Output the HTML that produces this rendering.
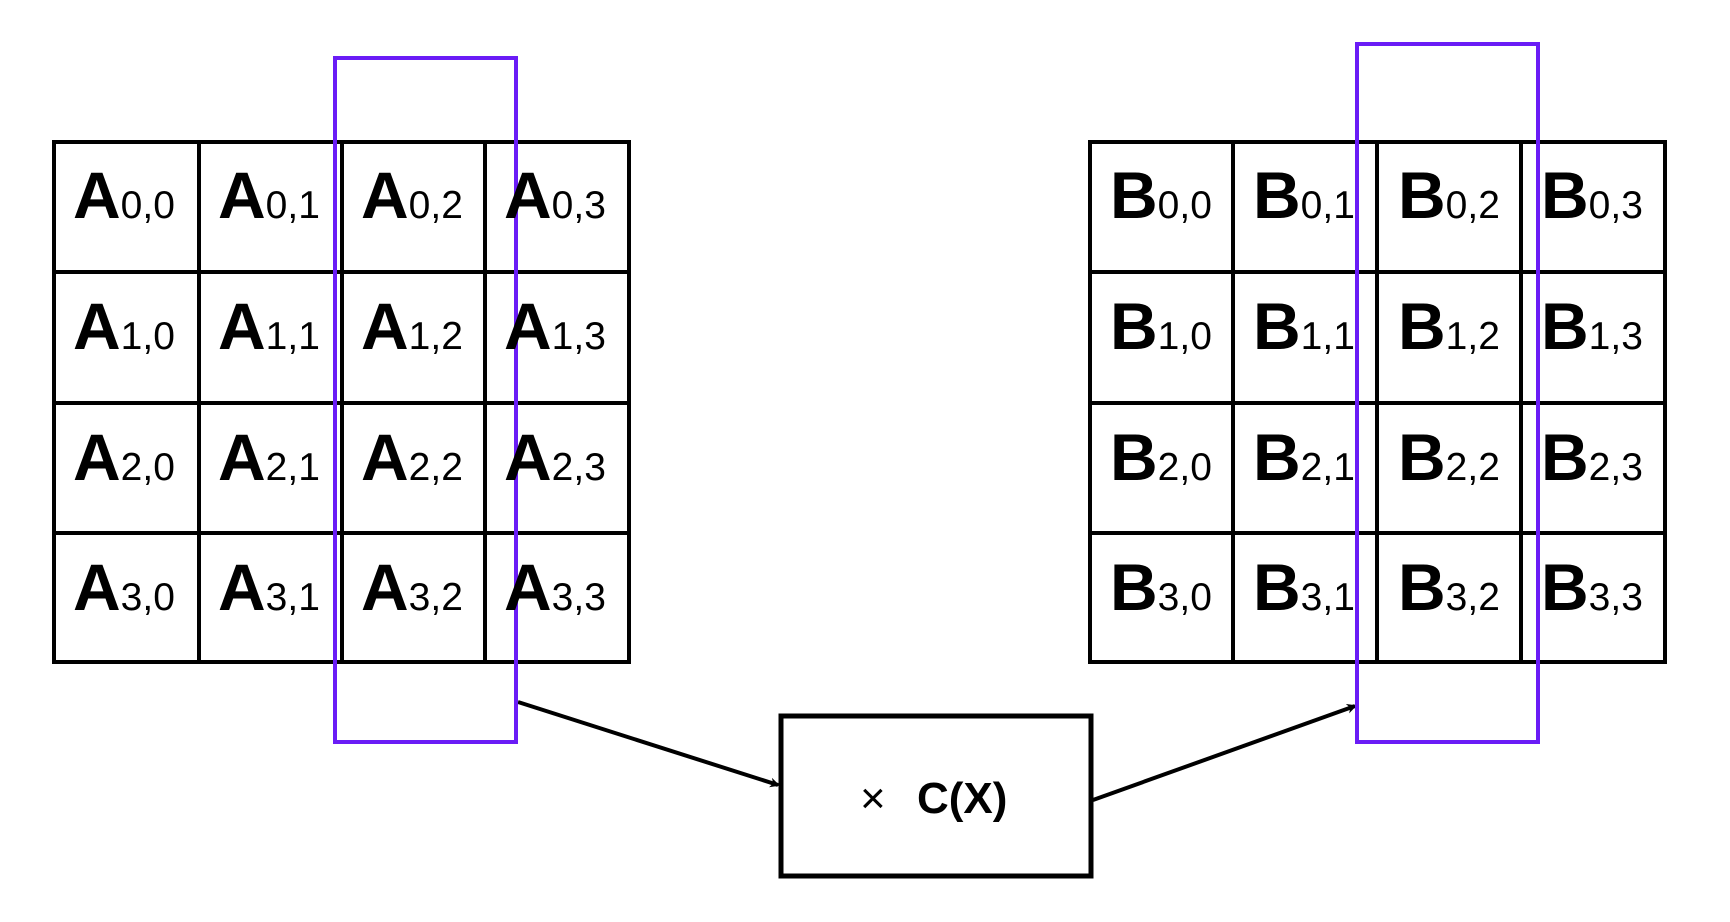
<!DOCTYPE html>
<html><head><meta charset="utf-8"><style>
html,body{margin:0;padding:0;background:#fff;}
svg{display:block;}
text{font-family:"Liberation Sans",Arial,sans-serif;fill:#000;}
</style></head><body>
<svg width="1730" height="922" viewBox="0 0 1730 922" xmlns="http://www.w3.org/2000/svg">
<defs>
<marker id="ah" markerWidth="10" markerHeight="10" refX="8" refY="5" orient="auto" markerUnits="userSpaceOnUse" viewBox="0 0 10 10">
<path d="M0,0 L10,5 L0,10 L3,5 z" fill="#000"/>
</marker>
</defs>
<g stroke="#000" stroke-width="4" fill="none">
<rect x="54" y="142" width="575" height="520"/>
<line x1="199" y1="142" x2="199" y2="662"/>
<line x1="342" y1="142" x2="342" y2="662"/>
<line x1="485" y1="142" x2="485" y2="662"/>
<line x1="54" y1="272" x2="629" y2="272"/>
<line x1="54" y1="403" x2="629" y2="403"/>
<line x1="54" y1="533" x2="629" y2="533"/>
<rect x="1090" y="142" width="575" height="520"/>
<line x1="1233" y1="142" x2="1233" y2="662"/>
<line x1="1377" y1="142" x2="1377" y2="662"/>
<line x1="1521" y1="142" x2="1521" y2="662"/>
<line x1="1090" y1="272" x2="1665" y2="272"/>
<line x1="1090" y1="403" x2="1665" y2="403"/>
<line x1="1090" y1="533" x2="1665" y2="533"/>
<rect x="781" y="716" width="310" height="160" stroke-width="5"/>
<line x1="518" y1="702" x2="778" y2="785" stroke-width="4" marker-end="url(#ah)"/>
<line x1="1093" y1="800" x2="1355" y2="706" stroke-width="4" marker-end="url(#ah)"/>
</g>
<g stroke="#6a1cf6" stroke-width="4" fill="none">
<rect x="335" y="58" width="181" height="684"/>
<rect x="1357" y="44" width="181" height="698"/>
</g>
<g font-size="66" font-weight="bold">
<text x="73" y="218">A<tspan font-size="39" font-weight="normal">0,0</tspan></text>
<text x="218" y="218">A<tspan font-size="39" font-weight="normal">0,1</tspan></text>
<text x="361" y="218">A<tspan font-size="39" font-weight="normal">0,2</tspan></text>
<text x="504" y="218">A<tspan font-size="39" font-weight="normal">0,3</tspan></text>
<text x="73" y="349">A<tspan font-size="39" font-weight="normal">1,0</tspan></text>
<text x="218" y="349">A<tspan font-size="39" font-weight="normal">1,1</tspan></text>
<text x="361" y="349">A<tspan font-size="39" font-weight="normal">1,2</tspan></text>
<text x="504" y="349">A<tspan font-size="39" font-weight="normal">1,3</tspan></text>
<text x="73" y="480">A<tspan font-size="39" font-weight="normal">2,0</tspan></text>
<text x="218" y="480">A<tspan font-size="39" font-weight="normal">2,1</tspan></text>
<text x="361" y="480">A<tspan font-size="39" font-weight="normal">2,2</tspan></text>
<text x="504" y="480">A<tspan font-size="39" font-weight="normal">2,3</tspan></text>
<text x="73" y="610">A<tspan font-size="39" font-weight="normal">3,0</tspan></text>
<text x="218" y="610">A<tspan font-size="39" font-weight="normal">3,1</tspan></text>
<text x="361" y="610">A<tspan font-size="39" font-weight="normal">3,2</tspan></text>
<text x="504" y="610">A<tspan font-size="39" font-weight="normal">3,3</tspan></text>
<text x="1110" y="218">B<tspan font-size="39" font-weight="normal">0,0</tspan></text>
<text x="1253" y="218">B<tspan font-size="39" font-weight="normal">0,1</tspan></text>
<text x="1398" y="218">B<tspan font-size="39" font-weight="normal">0,2</tspan></text>
<text x="1541" y="218">B<tspan font-size="39" font-weight="normal">0,3</tspan></text>
<text x="1110" y="349">B<tspan font-size="39" font-weight="normal">1,0</tspan></text>
<text x="1253" y="349">B<tspan font-size="39" font-weight="normal">1,1</tspan></text>
<text x="1398" y="349">B<tspan font-size="39" font-weight="normal">1,2</tspan></text>
<text x="1541" y="349">B<tspan font-size="39" font-weight="normal">1,3</tspan></text>
<text x="1110" y="480">B<tspan font-size="39" font-weight="normal">2,0</tspan></text>
<text x="1253" y="480">B<tspan font-size="39" font-weight="normal">2,1</tspan></text>
<text x="1398" y="480">B<tspan font-size="39" font-weight="normal">2,2</tspan></text>
<text x="1541" y="480">B<tspan font-size="39" font-weight="normal">2,3</tspan></text>
<text x="1110" y="610">B<tspan font-size="39" font-weight="normal">3,0</tspan></text>
<text x="1253" y="610">B<tspan font-size="39" font-weight="normal">3,1</tspan></text>
<text x="1398" y="610">B<tspan font-size="39" font-weight="normal">3,2</tspan></text>
<text x="1541" y="610">B<tspan font-size="39" font-weight="normal">3,3</tspan></text>
</g>
<text x="860" y="813" font-size="44">×</text>
<text x="917" y="813" font-size="44" font-weight="bold">C(X)</text>
</svg>
</body></html>
